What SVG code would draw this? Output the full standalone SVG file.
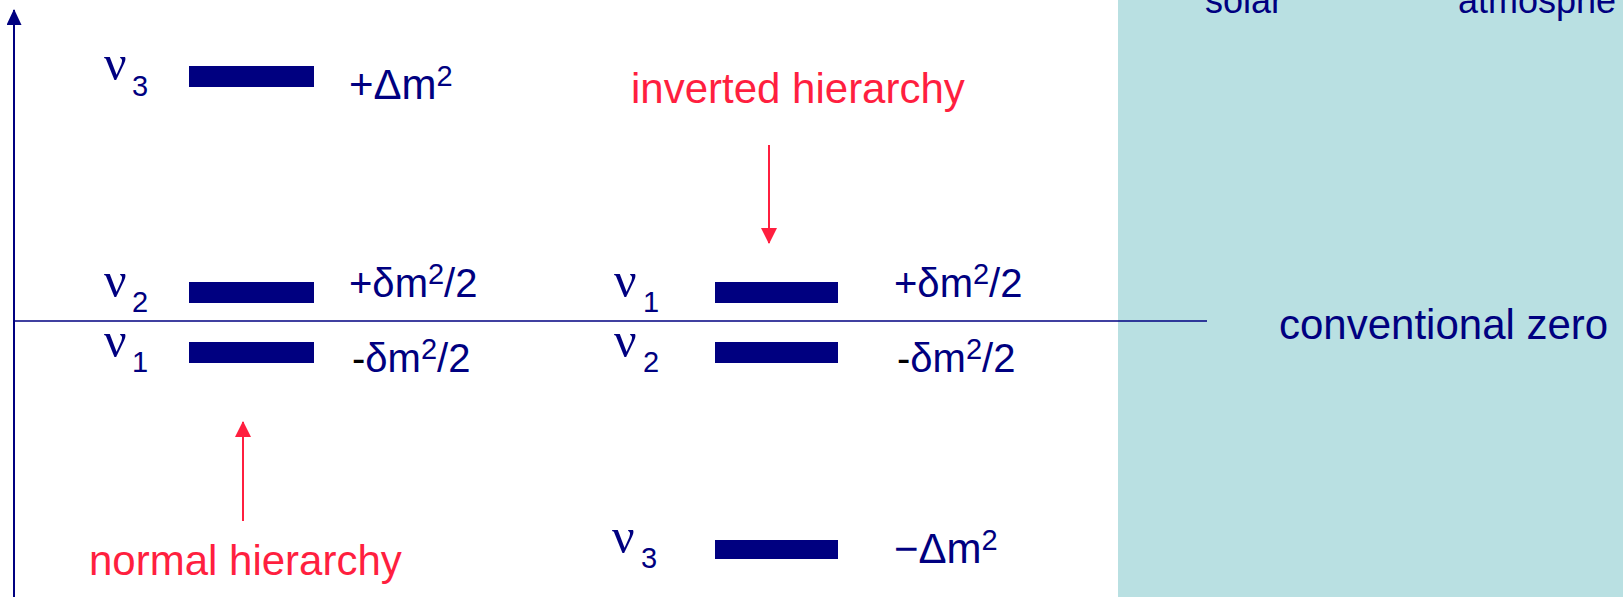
<svg xmlns="http://www.w3.org/2000/svg" width="1623" height="597" viewBox="0 0 1623 597">
<style>
.t{font-family:"Liberation Sans",Arial,sans-serif;fill:#000080;font-size:42px}
.d{font-size:40px}
.nu{font-family:"Liberation Serif","Times New Roman",serif;fill:#000080;font-size:50px}
.sub{font-family:"Liberation Sans",Arial,sans-serif;fill:#000080;font-size:29px}
.red{font-family:"Liberation Sans",Arial,sans-serif;fill:#FF1F3F;font-size:42px}
.bar{fill:#000080}
.blk{fill:#000000}
</style>
<defs>
<marker id="ar" markerUnits="userSpaceOnUse" markerWidth="16" markerHeight="16" refX="15" refY="8" orient="auto">
<path d="M0,0 L16,8 L0,16 Z" fill="#FF1F3F"/>
</marker>
<marker id="ab" markerUnits="userSpaceOnUse" markerWidth="16" markerHeight="16" refX="15" refY="7.5" orient="auto">
<path d="M0,0 L16,7.5 L0,15 Z" fill="#000080"/>
</marker>
</defs>
<rect id="panel" x="1118" y="0" width="505" height="597" fill="#B9E0E2"/>
<g id="panel-text">
<text class="t" x="1205" y="13" style="font-size:36px">solar</text>
<text class="t" x="1458" y="13" style="font-size:36px">atmosphe</text>
<text class="t" x="1279" y="339" style="font-size:42px">conventional zero</text>
</g>
<g id="connectors">
<line x1="14" y1="597" x2="14" y2="10" stroke="#000080" stroke-width="2" marker-end="url(#ab)"/>
<line x1="14" y1="321" x2="1207" y2="321" stroke="#000080" stroke-width="1.6"/>
<line x1="769" y1="145" x2="769" y2="243" stroke="#FF1F3F" stroke-width="2" marker-end="url(#ar)"/>
<line x1="243" y1="521" x2="243" y2="422" stroke="#FF1F3F" stroke-width="2" marker-end="url(#ar)"/>
</g>
<g id="normal-nu3">
<rect class="bar" x="189" y="66" width="125" height="21"/>
<text class="nu" x="104" y="80">ν</text><text class="sub" x="132" y="96">3</text>
<text class="t" x="349" y="99">+Δm<tspan class="sub" dy="-13">2</tspan></text>
</g>
<g id="normal-nu2">
<rect class="bar" x="189" y="282" width="125" height="21"/>
<text class="nu" x="104" y="297">ν</text><text class="sub" x="132" y="312">2</text>
<text class="t d" x="349" y="297">+δm<tspan class="sub" dy="-13">2</tspan><tspan dy="13">/2</tspan></text>
</g>
<g id="normal-nu1">
<rect class="bar" x="189" y="342" width="125" height="21"/>
<text class="nu" x="104" y="357">ν</text><text class="sub" x="132" y="372">1</text>
<text class="t d" x="352" y="372"><tspan class="blk">-</tspan>δm<tspan class="sub" dy="-13">2</tspan><tspan dy="13">/2</tspan></text>
</g>
<g id="inverted-nu1">
<rect class="bar" x="715" y="282" width="123" height="21"/>
<text class="nu" x="614" y="297">ν</text><text class="sub" x="643" y="312">1</text>
<text class="t d" x="894" y="297">+δm<tspan class="sub" dy="-13">2</tspan><tspan dy="13">/2</tspan></text>
</g>
<g id="inverted-nu2">
<rect class="bar" x="715" y="342" width="123" height="21"/>
<text class="nu" x="614" y="357">ν</text><text class="sub" x="643" y="372">2</text>
<text class="t d" x="897" y="372"><tspan class="blk">-</tspan>δm<tspan class="sub" dy="-13">2</tspan><tspan dy="13">/2</tspan></text>
</g>
<g id="inverted-nu3">
<rect class="bar" x="715" y="540" width="123" height="19"/>
<text class="nu" x="612" y="553">ν</text><text class="sub" x="641" y="568">3</text>
<text class="t" x="894" y="563">−Δm<tspan class="sub" dy="-13">2</tspan></text>
</g>
<g id="labels">
<text class="red" x="631" y="103">inverted hierarchy</text>
<text class="red" x="89" y="575">normal hierarchy</text>
</g>
</svg>
